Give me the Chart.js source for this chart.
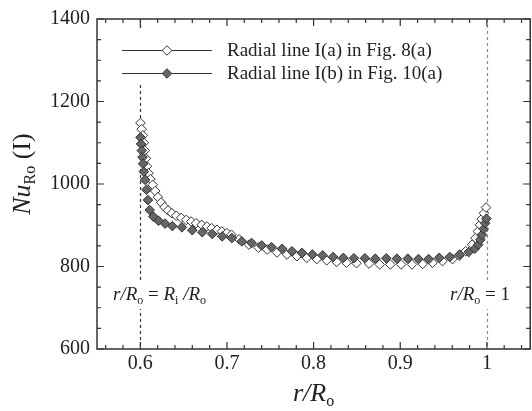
<!DOCTYPE html>
<html>
<head>
<meta charset="utf-8">
<script src="https://cdn.jsdelivr.net/npm/chart.js@4"></script>
<style>
  html, body { margin: 0; padding: 0; background: #fff; overflow: hidden; }
  canvas { display: block; }
</style>
</head>
<body>
<canvas id="nuChart" width="536" height="411"></canvas>
<script>
// axis ticks
const xTicks = [0.6, 0.7, 0.8, 0.9, 1.0];
const xTickLabels = ['0.6', '0.7', '0.8', '0.9', '1'];
const yTicks = [600, 800, 1000, 1200, 1400];
// dashed reference lines (r/Ro = Ri/Ro and r/Ro = 1)
const refLines = [0.6, 1.0];
const seriesNames = ['Radial line I(a) in Fig. 8(a)', 'Radial line I(b) in Fig. 10(a)'];

// series I(a) - open diamonds
const rA = [0.6002, 0.6015, 0.6028, 0.6040, 0.6052, 0.6064, 0.6076, 0.6094, 0.6117, 0.6143,
  0.6172, 0.6203, 0.6240, 0.6280, 0.6320, 0.6365, 0.6415, 0.6472, 0.6530, 0.6587,
  0.6644, 0.6709, 0.6770, 0.6823, 0.6885, 0.6942, 0.6999, 0.7052, 0.7140, 0.7254,
  0.7364, 0.7464, 0.7578, 0.7693, 0.7808, 0.7922, 0.8037, 0.8151, 0.8266, 0.8380,
  0.8495, 0.8640, 0.8763, 0.8885, 0.9010, 0.9136, 0.9259, 0.9373, 0.9488, 0.9603,
  0.9680, 0.9755, 0.9831, 0.9869, 0.9897, 0.9920, 0.9940, 0.9966, 0.9990];
const nuA = [1148, 1133, 1118, 1100, 1081, 1062, 1043, 1026, 1012, 998,
  983, 968, 955, 944, 936, 929, 923, 918, 913, 909,
  905, 901, 897, 893, 889, 885, 881, 877, 866, 853,
  846, 841, 834, 829, 825, 821, 818, 815, 811, 809,
  808, 807, 805, 805, 805, 805, 806, 809, 813, 818,
  826, 837, 853, 869, 885, 901, 915, 929, 943];

// series I(b) - filled diamonds
const rB = [0.6002, 0.6009, 0.6017, 0.6025, 0.6032, 0.6041, 0.6055, 0.6071, 0.6088, 0.6108,
  0.6150, 0.6210, 0.6285, 0.6370, 0.6480, 0.6600, 0.6715, 0.6830, 0.6945, 0.7056,
  0.7171, 0.7285, 0.7400, 0.7514, 0.7636, 0.7750, 0.7865, 0.7987, 0.8105, 0.8225,
  0.8343, 0.8465, 0.8592, 0.8712, 0.8839, 0.8961, 0.9087, 0.9210, 0.9328, 0.9450,
  0.9572, 0.9686, 0.9790, 0.9860, 0.9900, 0.9925, 0.9945, 0.9963, 0.9980, 0.9995];
const nuB = [1113, 1097, 1081, 1065, 1049, 1030, 1010, 986, 961, 937,
  921, 911, 904, 898, 895, 888, 883, 879, 873, 869,
  861, 857, 851, 847, 843, 837, 833, 829, 827, 823,
  821, 820, 820, 819, 820, 819, 819, 818, 818, 821,
  823, 829, 835, 843, 853, 865, 877, 891, 905, 916];

const SERIF = '"Liberation Serif", "Times New Roman", serif';
const INK = '#222';

function fontOf(p) {
  return (p.i ? 'italic ' : '') + p.s + 'px ' + SERIF;
}

// draws a run of text pieces (italic / subscript) on one baseline
function richText(ctx, parts, x, y, align) {
  let w = 0;
  parts.forEach(p => { ctx.font = fontOf(p); w += ctx.measureText(p.t).width; });
  let cx = align === 'center' ? x - w / 2 : x;
  ctx.textAlign = 'left';
  ctx.textBaseline = 'alphabetic';
  parts.forEach(p => {
    ctx.font = fontOf(p);
    ctx.fillText(p.t, cx, y + (p.dy || 0));
    cx += ctx.measureText(p.t).width;
  });
  return w;
}

function toPoints(xs, ys) {
  return xs.map((x, i) => ({ x: x, y: ys[i] }));
}

const figPlugin = {
  id: 'figPlugin',
  beforeDatasetsDraw(chart) {
    const ctx = chart.ctx, a = chart.chartArea, xs = chart.scales.x;
    ctx.save();
    ctx.lineWidth = 1.2;
    ctx.setLineDash([3, 3]);
    refLines.forEach((v, i) => {
      const px = Math.round(xs.getPixelForValue(v)) + 0.5;
      ctx.strokeStyle = i === 0 ? '#333' : '#888';
      ctx.beginPath();
      ctx.moveTo(px, a.top);
      ctx.lineTo(px, a.bottom);
      ctx.stroke();
    });
    ctx.restore();
  },
  afterDraw(chart) {
    const ctx = chart.ctx, a = chart.chartArea;
    const xs = chart.scales.x, ys = chart.scales.y;
    ctx.save();

    // frame
    ctx.strokeStyle = '#333';
    ctx.lineWidth = 1.5;
    ctx.strokeRect(a.left, a.top, a.right - a.left, a.bottom - a.top);

    // inward ticks on all four sides
    ctx.lineWidth = 1.2;
    ctx.beginPath();
    for (let i = 28; i <= 52; i++) {
      const px = xs.getPixelForValue(i / 50);
      const len = i % 5 === 0 ? 7 : 4;
      ctx.moveTo(px, a.bottom); ctx.lineTo(px, a.bottom - len);
      ctx.moveTo(px, a.top); ctx.lineTo(px, a.top + len);
    }
    for (let v = 600; v <= 1400; v += 50) {
      const py = ys.getPixelForValue(v);
      const len = v % 200 === 0 ? 7 : 4;
      ctx.moveTo(a.left, py); ctx.lineTo(a.left + len, py);
      ctx.moveTo(a.right, py); ctx.lineTo(a.right - len, py);
    }
    ctx.stroke();

    ctx.fillStyle = INK;

    // annotations at the dashed lines
    const annY = 300;
    const leftAnn = [
      { t: 'r', i: true, s: 19 }, { t: '/', i: true, s: 19 }, { t: 'R', i: true, s: 19 },
      { t: 'o', s: 12, dy: 4 }, { t: ' = ', s: 19 }, { t: 'R', i: true, s: 19 },
      { t: 'i', s: 12, dy: 4 }, { t: ' /', i: true, s: 19 }, { t: 'R', i: true, s: 19 },
      { t: 'o', s: 12, dy: 4 }
    ];
    const rightAnn = [
      { t: 'r', i: true, s: 19 }, { t: '/', i: true, s: 19 }, { t: 'R', i: true, s: 19 },
      { t: 'o', s: 12, dy: 4 }, { t: ' = 1', s: 19 }
    ];
    ctx.save();
    ctx.globalAlpha = 0;
    const wl = richText(ctx, leftAnn, 0, 0, 'left');
    const wr = richText(ctx, rightAnn, 0, 0, 'left');
    ctx.restore();
    const lx = 113, rx = 450;
    ctx.fillStyle = '#fff';
    ctx.fillRect(lx - 2, annY - 17, wl + 4, 26);
    ctx.fillRect(rx - 2, annY - 17, wr + 4, 26);
    ctx.fillStyle = INK;
    richText(ctx, leftAnn, lx, annY, 'left');
    richText(ctx, rightAnn, rx, annY, 'left');

    // legend
    ctx.fillStyle = '#fff';
    ctx.fillRect(115, 31, 340, 54);
    const rows = [50, 73];
    const ds = chart.data.datasets;
    rows.forEach((ry, i) => {
      ctx.strokeStyle = '#333';
      ctx.lineWidth = 1.2;
      ctx.setLineDash([]);
      ctx.beginPath();
      ctx.moveTo(122, ry + 0.5);
      ctx.lineTo(212, ry + 0.5);
      ctx.stroke();
      ctx.fillStyle = ds[i].backgroundColor;
      ctx.strokeStyle = ds[i].borderColor;
      ctx.lineWidth = ds[i].borderWidth;
      Chart.helpers.drawPoint(ctx, { pointStyle: 'rectRot', radius: ds[i].pointRadius, rotation: 0, borderWidth: 1 }, 167, ry + 0.5);
      ctx.fillStyle = INK;
      ctx.font = '19px ' + SERIF;
      ctx.textAlign = 'left';
      ctx.textBaseline = 'middle';
      ctx.fillText(seriesNames[i], 227, ry + 1);
    });

    // axis titles
    ctx.fillStyle = INK;
    richText(ctx, [
      { t: 'r', i: true, s: 26 }, { t: '/', i: true, s: 26 }, { t: 'R', i: true, s: 26 },
      { t: 'o', s: 16, dy: 5 }
    ], (a.left + a.right) / 2, 401, 'center');

    ctx.save();
    ctx.translate(30, 174);
    ctx.rotate(-Math.PI / 2);
    richText(ctx, [
      { t: 'Nu', i: true, s: 26 }, { t: 'Ro', s: 16, dy: 5 }, { t: ' (I)', s: 26 }
    ], 0, 0, 'center');
    ctx.restore();

    ctx.restore();
  }
};

const ctx = document.getElementById('nuChart').getContext('2d');
const nuChart = new Chart(ctx, {
  type: 'scatter',
  data: {
    datasets: [{
      label: seriesNames[0],
      data: toPoints(rA, nuA),
      pointStyle: 'rectRot',
      pointRadius: 4.8,
      backgroundColor: '#fff',
      borderColor: '#333',
      borderWidth: 1,
      order: 1
    }, {
      label: seriesNames[1],
      data: toPoints(rB, nuB),
      pointStyle: 'rectRot',
      pointRadius: 4.8,
      backgroundColor: '#666',
      borderColor: '#333',
      borderWidth: 1,
      order: 0
    }]
  },
  options: {
    responsive: false,
    animation: false,
    devicePixelRatio: 1,
    layout: { padding: { top: 15, right: 2, left: 0, bottom: 0 } },
    plugins: { legend: { display: false }, tooltip: { enabled: false } },
    scales: {
      x: {
        type: 'linear',
        min: 0.55,
        max: 1.05,
        grid: { display: false, drawTicks: false },
        border: { display: false },
        afterBuildTicks: s => { s.ticks = xTicks.map(v => ({ value: v })); },
        afterFit: s => { s.height = 62; },
        ticks: {
          padding: 3,
          color: INK,
          font: { family: SERIF, size: 20 },
          callback: (v) => xTickLabels[xTicks.findIndex(t => Math.abs(t - v) < 1e-6)]
        }
      },
      y: {
        type: 'linear',
        min: 600,
        max: 1400,
        grid: { display: false, drawTicks: false },
        border: { display: false },
        afterBuildTicks: s => { s.ticks = yTicks.map(v => ({ value: v })); },
        afterFit: s => { s.width = 97; },
        ticks: {
          padding: 7,
          color: INK,
          font: { family: SERIF, size: 20 },
          callback: (v) => String(v)
        }
      }
    }
  },
  plugins: [figPlugin]
});
</script>
</body>
</html>
